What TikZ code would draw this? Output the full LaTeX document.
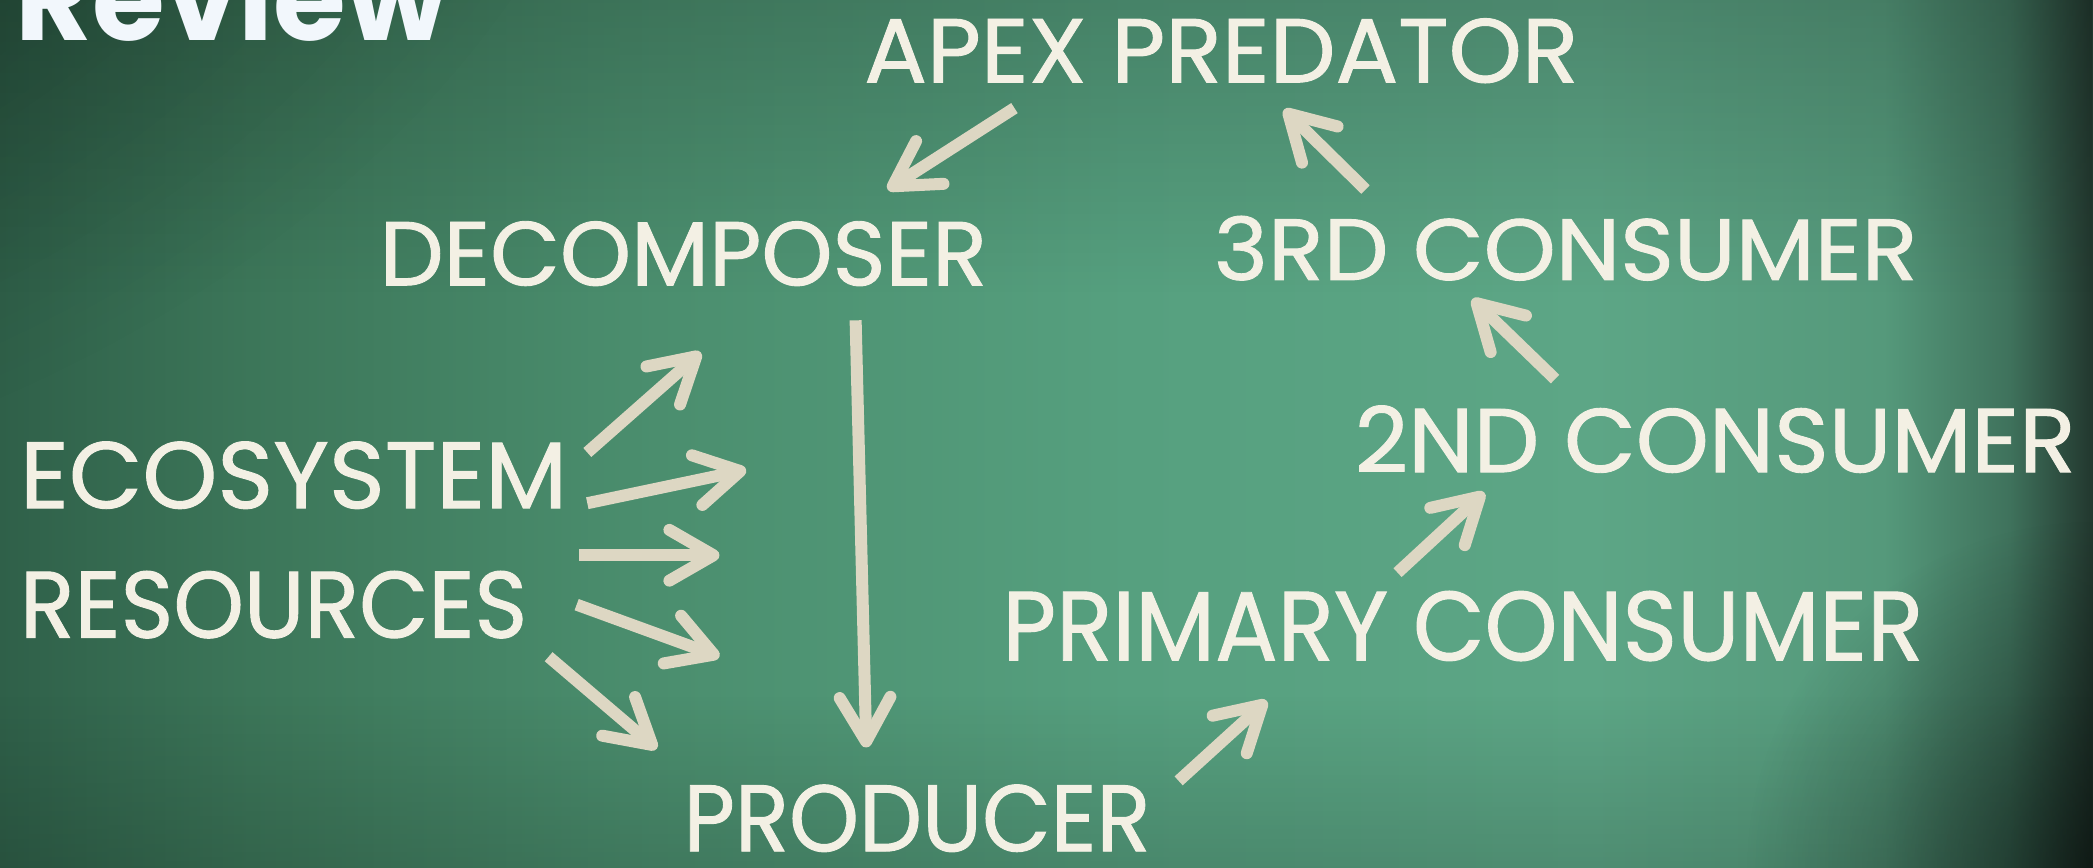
\documentclass[tikz,border=0pt]{standalone}
\usepackage{fontspec}
\setmainfont{Poppins}
\newfontfamily\chalkfont{Poppins}[FakeBold=1]
\usetikzlibrary{arrows.meta,fadings}
\tikzfading[name=softglow, inner color=transparent!0, outer color=transparent!100]
\definecolor{bgA}{HTML}{2F6049}
\definecolor{bgB}{HTML}{3C7659}
\definecolor{bgC}{HTML}{4A8D6D}
\definecolor{bgD}{HTML}{56A07F}
\definecolor{bgE}{HTML}{5DA686}
\definecolor{bgF}{HTML}{55997B}
\definecolor{bgG}{HTML}{3F725C}
\definecolor{bgH}{HTML}{22372E}
\definecolor{chalkwhite}{HTML}{F3F0E4}
\definecolor{chalkarrow}{HTML}{DDD7C3}
\definecolor{reviewwhite}{HTML}{F2F7FC}
\pgfdeclarehorizontalshading{board}{100bp}{color(0bp)=(bgA); color(25bp)=(bgA); color(31bp)=(bgB); color(40bp)=(bgC); color(52bp)=(bgD); color(63bp)=(bgE); color(70bp)=(bgF); color(73bp)=(bgG); color(75bp)=(bgH); color(100bp)=(bgH)}
\newcommand\chalktext[3]{\resizebox{#1}{#2}{\chalkfont #3}}
\begin{document}
\begin{tikzpicture}[x=0.1mm,y=-0.1mm,
  chalk/.style={inner sep=0pt, text=chalkwhite},
  link/.style={draw=chalkarrow, line width=0.9mm, -{Straight Barb[round,length=3.3mm,width=3.8mm]}}]
\useasboundingbox (0,0) rectangle (1568,650);
\clip (0,0) rectangle (1568,650);
% board
\shade[shading=board] (0,0) rectangle (1568,650);
\fill[black, opacity=0.18, path fading=south] (0,0) rectangle (1568,220);
\fill[black, opacity=0.40, path fading=softglow] (-500,-350) ellipse (1000 and 750);
\fill[black, opacity=0.15, path fading=north] (0,520) rectangle (1568,650);
\fill[black, opacity=0.45, path fading=softglow] (1568,650) ellipse (260 and 260);
% title
\node[inner sep=0pt, anchor=base west, text=reviewwhite] (review) at (11,30) {\resizebox{32.4mm}{!}{\bfseries Review}};
% labels
\node[chalk] (apex) at (915,38) {\chalktext{53.5mm}{4.8mm}{APEX PREDATOR}};
\node[chalk] (decomp) at (512,190) {\chalktext{45.5mm}{4.8mm}{DECOMPOSER}};
\node[chalk] (third) at (1173,186) {\chalktext{52.7mm}{4.8mm}{3RD CONSUMER}};
\node[chalk] (second) at (1285,329) {\chalktext{54.0mm}{5.0mm}{2ND CONSUMER}};
\node[chalk] (eco) at (220,356) {\chalktext{41.0mm}{5.0mm}{ECOSYSTEM}};
\node[chalk] (res) at (205,453) {\chalktext{38.0mm}{5.0mm}{RESOURCES}};
\node[chalk] (primary) at (1096,469) {\chalktext{69.0mm}{5.2mm}{PRIMARY CONSUMER}};
\node[chalk] (producer) at (687,613) {\chalktext{35.0mm}{5.0mm}{PRODUCER}};
% arrow end points
\coordinate (a1s) at (760,81);   \coordinate (a1e) at (665,142);
\coordinate (a2s) at (1023,142); \coordinate (a2e) at (962,82);
\coordinate (a3s) at (1165,284); \coordinate (a3e) at (1103,224);
\coordinate (a4s) at (1047,429); \coordinate (a4e) at (1112,369);
\coordinate (a5s) at (883,585);  \coordinate (a5e) at (949,525);
\coordinate (a6s) at (641,240);  \coordinate (a6e) at (649,560);
\coordinate (fas) at (440,339);  \coordinate (fae) at (525,264);
\coordinate (fbs) at (440,377);  \coordinate (fbe) at (559,352);
\coordinate (fcs) at (434,416);  \coordinate (fce) at (539,416);
\coordinate (fds) at (432,453);  \coordinate (fde) at (539,492);
\coordinate (fes) at (411,492);  \coordinate (fee) at (492,561);
% connectors
\draw[link] (a1s) -- (a1e);
\draw[link] (a2s) -- (a2e);
\draw[link] (a3s) -- (a3e);
\draw[link] (a4s) -- (a4e);
\draw[link] (a5s) -- (a5e);
\draw[link] (a6s) -- (a6e);
\draw[link] (fas) -- (fae);
\draw[link] (fbs) -- (fbe);
\draw[link] (fcs) -- (fce);
\draw[link] (fds) -- (fde);
\draw[link] (fes) -- (fee);
\end{tikzpicture}
\end{document}
